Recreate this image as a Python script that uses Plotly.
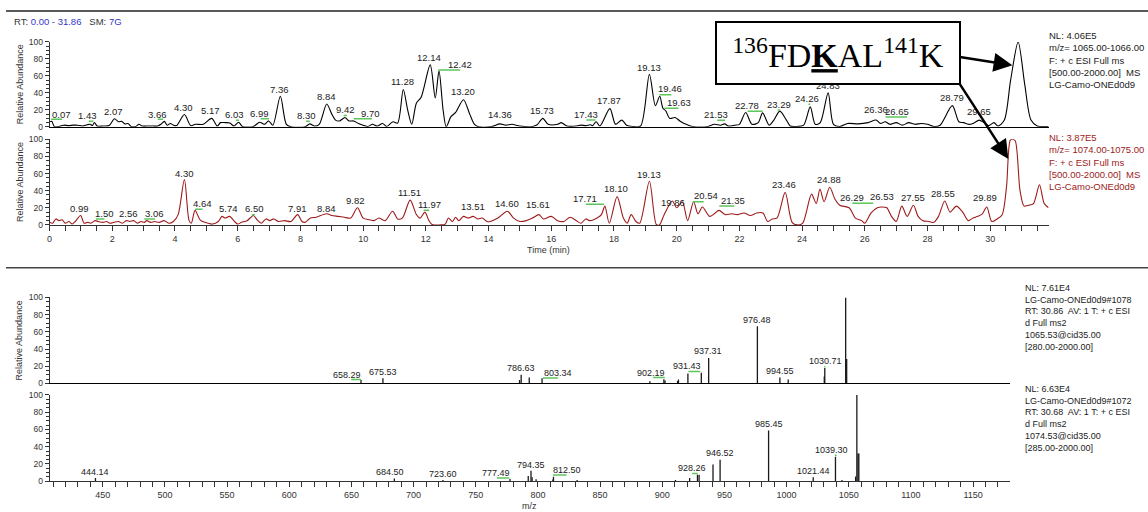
import plotly.graph_objects as go

# ---------------- data ----------------
# Chromatogram 1 (m/z 1065-1066), black
rt_top = [0.00, 0.07, 0.15, 0.30, 0.45, 0.60, 0.75, 0.90, 1.05, 1.20, 1.30, 1.36, 1.43, 1.52, 1.70, 1.90,
          2.07, 2.20, 2.30, 2.40, 2.50, 2.60, 2.75, 2.85, 2.95, 3.10, 3.30, 3.45, 3.55, 3.66, 3.75, 3.85,
          3.95, 4.05, 4.30, 4.50, 4.65, 4.90, 5.17, 5.35, 5.45, 5.60, 5.75, 5.88, 6.03, 6.15, 6.50, 6.70,
          6.85, 6.99, 7.12, 7.36, 7.55, 7.70, 8.15, 8.30, 8.45, 8.60, 8.84, 9.00, 9.12, 9.25, 9.42, 9.55,
          9.70, 9.85, 10.00, 10.15, 10.30, 10.45, 10.62, 10.75, 10.95, 11.10, 11.28, 11.42, 11.55, 11.70,
          11.85, 12.14, 12.30, 12.42, 12.55, 12.65, 12.80, 12.95, 13.20, 13.40, 13.55, 13.70, 14.10, 14.36,
          14.55, 14.75, 15.00, 15.40, 15.55, 15.73, 15.90, 16.20, 16.32, 16.50, 16.80, 16.95, 17.10, 17.25,
          17.32, 17.43, 17.55, 17.87, 18.05, 18.25, 18.40, 18.60, 18.85, 19.13, 19.32, 19.46, 19.56, 19.65,
          19.78, 19.95, 20.10, 20.30, 20.50, 21.00, 21.20, 21.40, 21.53, 21.65, 21.85, 22.00, 22.20, 22.40,
          22.60, 22.74, 22.95, 23.10, 23.29, 23.50, 23.62, 23.85, 24.05, 24.26, 24.42, 24.58, 24.83, 25.00,
          25.20, 25.45, 25.80, 26.10, 26.36, 26.50, 26.65, 26.80, 27.00, 27.20, 27.40, 27.60, 27.80, 28.00,
          28.20, 28.40, 28.79, 29.00, 29.15, 29.30, 29.45, 29.65, 29.80, 29.95, 30.12, 30.25, 30.45, 30.65,
          30.89, 31.10, 31.30, 31.50, 31.86]
ab_top = [6, 6.5, 0.5, 0.5, 2, 1.5, 2, 2, 1, 2.5, 3, 1.5, 5, 1, 1, 1.5,
          9.5, 6, 6.5, 3.5, 4, 0.5, 0.5, 3, 1, 1, 1, 1, 3, 6.5, 2, 4,
          2, 1.5, 14.5, 1.5, 3, 3, 10, 1, 5, 5, 4.5, 1, 5.5, 0.5, 0.5, 5.5,
          3, 7, 2, 36, 3, 0, 0, 3.5, 1, 3, 27, 15, 8, 7, 11, 7,
          7, 4, 2, 0.5, 3, 1, 4, 0.5, 6, 4.5, 44, 20, 3, 28,
          35, 73, 34, 66, 20, 0, 12, 17, 32, 15, 3, 0, 0.5, 3.5,
          2, 3, 1, 0.5, 2.5, 10, 3, 3, 5, 1, 1, 2, 1.5, 2.5,
          1.5, 6, 1, 21.5, 3, 8, 2, 0.5, 1, 62, 25, 36, 22, 19,
          10, 11, 7, 3, 0.5, 0.5, 3, 2, 3.5, 1, 2, 3, 17, 3,
          5, 16.5, 2, 8, 18.5, 8, 1, 0.5, 2, 23.5, 3, 5, 40, 3,
          0.5, 4, 3.5, 5, 8, 4, 6, 3, 5, 2, 5, 3, 4, 3,
          0.5, 2, 25, 6, 5, 3, 4, 8, 5, 1.5, 5, 1, 8, 55,
          100, 50, 8, 1, 0.5]

# Chromatogram 2 (m/z 1074-1075), red
rt_bot = [0.00, 0.10, 0.20, 0.30, 0.40, 0.50, 0.62, 0.72, 0.82, 0.99, 1.10, 1.22, 1.32, 1.45, 1.55, 1.70,
          1.82, 1.92, 2.05, 2.20, 2.32, 2.45, 2.56, 2.68, 2.80, 2.92, 3.02, 3.10, 3.22, 3.35, 3.50, 3.65,
          3.80, 3.95, 4.10, 4.30, 4.45, 4.52, 4.64, 4.80, 4.95, 5.20, 5.38, 5.50, 5.60, 5.74, 5.90, 6.00,
          6.12, 6.30, 6.50, 6.62, 6.75, 6.90, 7.02, 7.15, 7.30, 7.50, 7.70, 7.91, 8.05, 8.15, 8.32, 8.50,
          8.84, 9.00, 9.20, 9.40, 9.60, 9.82, 10.00, 10.20, 10.35, 10.50, 10.70, 10.94, 11.10, 11.25, 11.50,
          11.70, 11.82, 11.97, 12.10, 12.20, 12.50, 12.62, 12.72, 12.85, 12.95, 13.05, 13.20, 13.35, 13.51,
          13.65, 13.80, 13.95, 14.05, 14.30, 14.60, 14.80, 15.00, 15.20, 15.40, 15.61, 15.75, 16.00, 16.20,
          16.40, 16.60, 16.80, 16.95, 17.10, 17.22, 17.35, 17.50, 17.60, 17.71, 17.85, 18.10, 18.30, 18.42,
          18.55, 18.70, 18.82, 19.13, 19.35, 19.45, 19.60, 19.86, 20.00, 20.18, 20.35, 20.54, 20.68, 20.82,
          21.05, 21.20, 21.35, 21.55, 21.75, 21.95, 22.15, 22.35, 22.55, 22.75, 22.90, 23.05, 23.20, 23.46,
          23.68, 23.85, 24.02, 24.30, 24.45, 24.57, 24.70, 24.88, 25.05, 25.20, 25.50, 25.70, 25.90, 26.00,
          26.20, 26.40, 26.53, 26.70, 26.85, 27.00, 27.18, 27.35, 27.55, 27.70, 27.85, 28.05, 28.20, 28.35,
          28.55, 28.72, 28.92, 29.12, 29.30, 29.45, 29.60, 29.75, 29.89, 30.05, 30.22, 30.38, 30.52, 30.64,
          30.72, 30.80, 30.95, 31.08, 31.22, 31.38, 31.57, 31.72, 31.86]
ab_bot = [3, 2, 7, 5, 6, 2, 4, 1, 4, 11, 2, 3, 2, 5, 4, 3,
          4, 2, 3, 4, 2, 5, 4, 5, 2, 4, 3, 5, 3, 4, 3, 5,
          2, 4, 12, 53, 5, 2, 17, 6, 3, 1, 4, 10, 8, 10, 4, 1,
          3, 5, 11, 6, 2, 7, 5, 7, 4, 5, 4, 12, 4, 3, 8, 9,
          13, 11, 10, 9, 8, 20, 8, 6, 5, 8, 5, 16, 7, 8, 29,
          12, 8, 15, 5, 0.5, 0, 1, 8, 4, 9, 5, 10, 8, 10,
          7, 8, 4, 4, 8, 16, 8, 4, 5, 8, 12, 7, 10, 5,
          4, 9, 5, 2, 7, 5, 6, 9, 12, 22, 2, 33, 8, 2,
          12, 4, 2, 51, 0.5, 0, 12, 28, 20, 27, 5, 27, 13, 21,
          10, 13, 17, 12, 13, 12, 14, 11, 14, 14, 4, 7, 8, 38,
          3, 0, 2, 36, 25, 42, 27, 44, 30, 23, 20, 8, 5, 2,
          14, 20, 21, 20, 10, 4, 22, 10, 23, 10, 5, 4, 3, 10,
          28, 15, 22, 15, 5, 8, 10, 13, 21, 4, 7, 12, 45, 99,
          100, 98, 40, 22, 23, 25, 47, 25, 20]

# Peak labels, chromatogram 1
top_label_text = ["0.07", "1.43", "2.07", "3.66", "4.30", "5.17", "6.03", "6.99", "7.36", "8.30", "8.84",
                  "9.42", "9.70", "11.28", "12.14", "12.42", "13.20", "14.36", "15.73", "17.43", "17.87",
                  "19.13", "19.46", "19.63", "21.53", "22.78", "23.29", "24.26", "24.83", "26.36", "26.65",
                  "28.79", "29.65", "30.89"]
top_label_rt = [0.37, 1.22, 2.05, 3.45, 4.26, 5.14, 5.91, 6.70, 7.34, 8.18, 8.82,
                9.45, 10.24, 11.26, 12.11, 13.09, 13.17, 14.37, 15.71, 17.10, 17.85,
                19.13, 19.80, 20.06, 21.26, 22.23, 23.26, 24.17, 24.83, 26.36, 27.03,
                28.78, 29.63, 30.90]
top_label_ab = [9.6, 8, 12.7, 9.6, 17.7, 13.5, 9.6, 10.8, 38.8, 7.7, 30,
                14.6, 10.8, 48, 76, 68, 36, 9.6, 13.8, 9.6, 25.8,
                65, 39.6, 23.5, 9.6, 20.4, 21, 28, 43.5, 14.6, 12.7,
                28.8, 12.7, 105]
top_green_x0 = [0.05, 1.25, 3.45, 5.94, 6.73, 8.18, 9.38, 9.70, 12.40, 17.12, 19.45, 19.61, 21.29, 22.26, 23.22, 24.20, 26.66]
top_green_x1 = [0.40, 1.40, 3.62, 6.04, 7.00, 8.30, 9.48, 10.28, 13.09, 17.41, 19.83, 20.06, 21.54, 22.74, 23.30, 24.26, 27.35]
top_green_y = [9, 6.5, 9, 7.7, 9.6, 6.5, 13.5, 9.6, 67, 8, 37.7, 22, 7.7, 18.5, 20, 26.5, 11.5]

# Peak labels, chromatogram 2
bot_label_text = ["0.99", "1.50", "2.56", "3.06", "4.30", "4.64", "5.74", "6.50", "7.91", "8.84", "9.82",
                  "11.51", "11.97", "13.51", "14.60", "15.61", "17.71", "18.10", "19.13", "19.86", "20.54",
                  "21.35", "23.46", "24.88", "26.29", "26.53", "27.55", "28.55", "29.89", "30.72"]
bot_label_rt = [0.95, 1.75, 2.52, 3.36, 4.29, 4.88, 5.70, 6.52, 7.90, 8.82, 9.77,
                11.47, 12.11, 13.50, 14.58, 15.59, 17.07, 18.08, 19.13, 19.88, 20.94,
                21.79, 23.43, 24.86, 25.60, 26.56, 27.55, 28.49, 29.84, 30.71]
bot_label_ab = [13.4, 8, 8, 8, 54.6, 20, 13.4, 13.4, 14.5, 14.5, 23,
                32.4, 18.3, 16.4, 20, 19, 25.6, 37.4, 53.8, 21, 28.6,
                23.3, 42.4, 47.7, 27, 27.9, 27, 31.7, 27, 103.4]
bot_green_x0 = [1.48, 3.02, 4.64, 6.45, 11.93, 17.10, 20.51, 21.36, 25.60]
bot_green_x1 = [1.75, 3.36, 4.88, 6.55, 12.11, 17.68, 20.86, 21.84, 26.27]
bot_green_y = [6.9, 6.9, 18.3, 12, 17, 24, 27, 22, 25.2]

# MS2 spectrum of 1065.53
ms1_mz = [657.7, 675.3, 785.2, 786.5, 793.0, 803.3, 890.0, 901.3, 902.2, 912.3, 913.0, 920.6, 931.4,
          937.3, 976.5, 994.6, 1001.3, 1030.3, 1030.7, 1047.5, 1048.3]
ms1_ab = [4, 6, 4, 10, 7, 6, 2.6, 5, 3.4, 3, 4.5, 11.5, 12.5,
          29.6, 66.5, 7, 4.5, 8, 18, 100, 28.5]
ms1_label_text = ["658.29", "675.53", "786.63", "803.34", "902.19", "931.43", "937.31", "976.48",
                  "994.55", "1030.71", "1047.49"]
ms1_label_mz = [646.5, 675.1, 786.3, 815.8, 891.2, 920.0, 936.9, 976.5, 994.9, 1031.0, 1047.8]
ms1_label_ab = [5.7, 8.7, 13.3, 8, 8, 15.6, 33, 69.5, 9.9, 20.9, 103]
ms1_green_x0 = [649.8, 804.0, 892.6, 921.0, 1030.2]
ms1_green_x1 = [657.7, 816.0, 902.0, 930.5, 1031.2]
ms1_green_y = [4.6, 6.4, 6.8, 14, 19.5]

# MS2 spectrum of 1074.53
ms2_mz = [444.1, 684.5, 723.6, 777.5, 792.2, 794.4, 795.3, 798.5, 812.0, 812.5, 831.5, 910.6, 922.0,
          928.3, 929.6, 940.8, 946.5, 985.5, 1021.4, 1039.3, 1044.5, 1055.5, 1056.5, 1057.4, 1058.1]
ms2_ab = [3.8, 3, 1.5, 2.6, 6, 12, 4.5, 2.3, 2, 5.3, 1.5, 1.5, 3.8,
          7.6, 7.6, 19.3, 25, 58.7, 4.5, 28.4, 1.5, 5.5, 100, 32, 32]
ms2_label_text = ["444.14", "684.50", "723.60", "777.49", "794.35", "812.50", "928.26", "946.52",
                  "985.45", "1021.44", "1039.30", "1056.52"]
ms2_label_mz = [443.8, 681.0, 723.5, 766.3, 794.3, 823.5, 923.8, 946.5, 985.8, 1021.6, 1036.3, 1056.6]
ms2_label_ab = [6.1, 6.5, 3.4, 5.3, 14, 8.3, 10.2, 28, 61.4, 7.5, 31.1, 103]
ms2_green_x0 = [767.0, 812.0, 924.0, 1038.8]
ms2_green_x1 = [777.0, 823.0, 928.5, 1040.2]
ms2_green_y = [3.8, 7.2, 9, 30]

y_tick_vals = [0, 20, 40, 60, 80, 100]
rt_tick_vals = list(range(0, 32, 2))
mz_tick_vals = list(range(450, 1200, 50))

info_chrom1 = ["NL: 4.06E5", "m/z= 1065.00-1066.00", "F: + c ESI Full ms", "[500.00-2000.00]\u00a0 MS", "LG-Camo-ONEd0d9"]
info_chrom2 = ["NL: 3.87E5", "m/z= 1074.00-1075.00", "F: + c ESI Full ms", "[500.00-2000.00]\u00a0 MS", "LG-Camo-ONEd0d9"]
info_ms1 = ["NL: 7.61E4", "LG-Camo-ONEd0d9#1078", "RT: 30.86\u00a0 AV: 1 T: + c ESI", "d Full ms2", "1065.53@cid35.00", "[280.00-2000.00]"]
info_ms2 = ["NL: 6.63E4", "LG-Camo-ONEd0d9#1072", "RT: 30.68\u00a0 AV: 1 T: + c ESI", "d Full ms2", "1074.53@cid35.00", "[285.00-2000.00]"]

# ---------------- layout helpers ----------------
W, H = 1148, 512
FONT = "Liberation Sans, Arial, sans-serif"
SERIF = "Liberation Serif, Times New Roman, serif"
RED = "#9e1b1b"
GREEN = "#5cc55c"
BLUE = "#3535c8"
TXT = "#222222"
AX = "#333333"


def px(xp):
    return xp / W


def py(yp):
    return 1 - yp / H


XC = [px(46.7), px(1048.3)]
XS = [px(46.7), px(1009.3)]
Y1 = [py(124.3), py(37.7)]
Y2 = [py(224.3), py(137.0)]
Y3 = [py(386.0), py(298.3)]
Y4 = [py(485.7), py(397.7)]
RT_RANGE = [0, 31.86]
MZ_RANGE = [407.2, 1179.4]

fig = go.Figure()

fig.add_trace(go.Scatter(x=rt_top, y=ab_top, mode="lines", xaxis="x", yaxis="y",
                         line=dict(color="black", width=1.1, shape="spline", smoothing=0.8)))
fig.add_trace(go.Scatter(x=rt_bot, y=ab_bot, mode="lines", xaxis="x2", yaxis="y2",
                         line=dict(color=RED, width=1.1, shape="spline", smoothing=0.8)))


def sticks(mzs, abs_, xa, ya):
    xs, ys = [], []
    for m, a in zip(mzs, abs_):
        xs += [m, m, None]
        ys += [0, a, None]
    return go.Scatter(x=xs, y=ys, mode="lines", xaxis=xa, yaxis=ya,
                      line=dict(color="#1a1a1a", width=1.3))


def greens(x0s, x1s, ys_, xa, ya):
    xs, ys = [], []
    for a, b, c in zip(x0s, x1s, ys_):
        xs += [a, b, None]
        ys += [c, c, None]
    return go.Scatter(x=xs, y=ys, mode="lines", xaxis=xa, yaxis=ya,
                      line=dict(color=GREEN, width=1.5))


fig.add_trace(sticks(ms1_mz, ms1_ab, "x3", "y3"))
fig.add_trace(sticks(ms2_mz, ms2_ab, "x4", "y4"))
fig.add_trace(greens(top_green_x0, top_green_x1, top_green_y, "x", "y"))
fig.add_trace(greens(bot_green_x0, bot_green_x1, bot_green_y, "x2", "y2"))
fig.add_trace(greens(ms1_green_x0, ms1_green_x1, ms1_green_y, "x3", "y3"))
fig.add_trace(greens(ms2_green_x0, ms2_green_x1, ms2_green_y, "x4", "y4"))


def yax(domain, anchor):
    return dict(domain=domain, anchor=anchor, range=[0, 100], tickvals=y_tick_vals,
                showline=True, linecolor=AX, linewidth=1, ticks="outside", ticklen=4,
                tickwidth=1, tickcolor=AX, showgrid=False, zeroline=False,
                tickfont=dict(family=FONT, size=8.5, color=AX),
                minor=dict(dtick=5, tick0=0, ticks="outside", ticklen=2.5, tickcolor=AX, showgrid=False),
                fixedrange=True)


def xax_plain(domain, anchor, rng):
    return dict(domain=domain, anchor=anchor, range=rng, showline=True, linecolor="black",
                linewidth=1, ticks="", showticklabels=False, showgrid=False, zeroline=False,
                fixedrange=True)


def xax_ticks(domain, anchor, rng, vals, mdt, m0):
    return dict(domain=domain, anchor=anchor, range=rng, showline=True, linecolor=AX,
                linewidth=1, ticks="outside", ticklen=5, tickwidth=1, tickcolor=AX,
                tickvals=vals, showgrid=False, zeroline=False,
                tickfont=dict(family=FONT, size=9, color=AX),
                minor=dict(dtick=mdt, tick0=m0, ticks="outside", ticklen=5, tickcolor=AX, showgrid=False),
                fixedrange=True)


ann = []


def labels(texts, xs, ys, xref, yref, size=9.5):
    for t, x, y in zip(texts, xs, ys):
        ann.append(dict(x=x, y=y, xref=xref, yref=yref, text=t, showarrow=False,
                        xanchor="center", yanchor="bottom", yshift=-3,
                        font=dict(family=FONT, size=size, color=TXT)))


labels(top_label_text, top_label_rt, top_label_ab, "x", "y")
labels(bot_label_text, bot_label_rt, bot_label_ab, "x2", "y2")
labels(ms1_label_text, ms1_label_mz, ms1_label_ab, "x3", "y3", 9)
labels(ms2_label_text, ms2_label_mz, ms2_label_ab, "x4", "y4", 9)


def info(lines, xp, yp, color, size):
    ann.append(dict(x=px(xp), y=py(yp), xref="paper", yref="paper", text="<br>".join(lines),
                    showarrow=False, xanchor="left", yanchor="top", align="left",
                    font=dict(family=FONT, size=size, color=color)))


info(info_chrom1, 1047, 23.5, TXT, 9.5)
info(info_chrom2, 1047, 127, RED, 9.5)
info(info_ms1, 1023, 282, TXT, 9)
info(info_ms2, 1023, 384.5, TXT, 9)

# axis titles
for yc in [(37.7 + 124.3) / 2, (137 + 224.3) / 2, (298.3 + 386) / 2]:
    ann.append(dict(x=px(17), y=py(yc), xref="paper", yref="paper", text="Relative Abundance",
                    showarrow=False, textangle=-90, xanchor="center", yanchor="middle",
                    font=dict(family=FONT, size=9, color=AX)))
ann.append(dict(x=px(547), y=py(250), xref="paper", yref="paper", text="Time (min)",
                showarrow=False, xanchor="center", yanchor="middle",
                font=dict(family=FONT, size=9, color=AX)))
ann.append(dict(x=px(528), y=py(504), xref="paper", yref="paper", text="m/z",
                showarrow=False, xanchor="center", yanchor="top",
                font=dict(family=FONT, size=9, color=AX)))
ann.append(dict(x=px(9), y=py(17), xref="paper", yref="paper",
                text=("RT: <span style='color:%s'>0.00 - 31.86</span>\u00a0\u00a0\u00a0SM: "
                      "<span style='color:%s'>7G</span>") % (BLUE, BLUE),
                showarrow=False, xanchor="left", yanchor="middle",
                font=dict(family=FONT, size=9.5, color=AX)))

# peptide box and arrows
ann.append(dict(x=px(837), y=py(49), xref="paper", yref="paper",
                text="<sup>136</sup>FD<b><u>K</u></b>AL<sup>141</sup>K",
                showarrow=False, xanchor="center", yanchor="middle", align="center", valign="middle",
                bgcolor="white", bordercolor="black", borderwidth=2, borderpad=0,
                width=242, height=60, font=dict(family=SERIF, size=34, color="black")))
ann.append(dict(x=px(1012), y=py(61.5), xref="paper", yref="paper", ax=-54, ay=-8.5,
                text="", showarrow=True, arrowhead=2, arrowsize=1.5, arrowwidth=2.5,
                arrowcolor="black", standoff=0, startstandoff=0))
ann.append(dict(x=px(1008), y=py(157), xref="paper", yref="paper", ax=-50, ay=-77,
                text="", showarrow=True, arrowhead=2, arrowsize=1.5, arrowwidth=2.5,
                arrowcolor="black", standoff=0, startstandoff=0))

shapes = [
    dict(type="line", xref="paper", yref="paper", x0=px(3), x1=1, y0=py(6), y1=py(6),
         line=dict(color="#222222", width=1.5)),
    dict(type="line", xref="paper", yref="paper", x0=px(3), x1=1, y0=py(268), y1=py(268),
         line=dict(color="#444444", width=1.5)),
]

fig.update_layout(
    width=W, height=H, autosize=False,
    margin=dict(l=0, r=0, t=0, b=0),
    paper_bgcolor="white", plot_bgcolor="white",
    showlegend=False,
    font=dict(family=FONT, size=9, color=TXT),
    xaxis=xax_plain(XC, "y", RT_RANGE),
    yaxis=yax(Y1, "x"),
    xaxis2=xax_ticks(XC, "y2", RT_RANGE, rt_tick_vals, 0.5, 0),
    yaxis2=yax(Y2, "x2"),
    xaxis3=xax_plain(XS, "y3", MZ_RANGE),
    yaxis3=yax(Y3, "x3"),
    xaxis4=xax_ticks(XS, "y4", MZ_RANGE, mz_tick_vals, 10, 0),
    yaxis4=yax(Y4, "x4"),
    annotations=ann,
    shapes=shapes,
)

fig.write_html("out.html",
               config={"displayModeBar": False, "staticPlot": True},
               post_script="document.body.style.margin='0';document.body.style.overflow='hidden';")
